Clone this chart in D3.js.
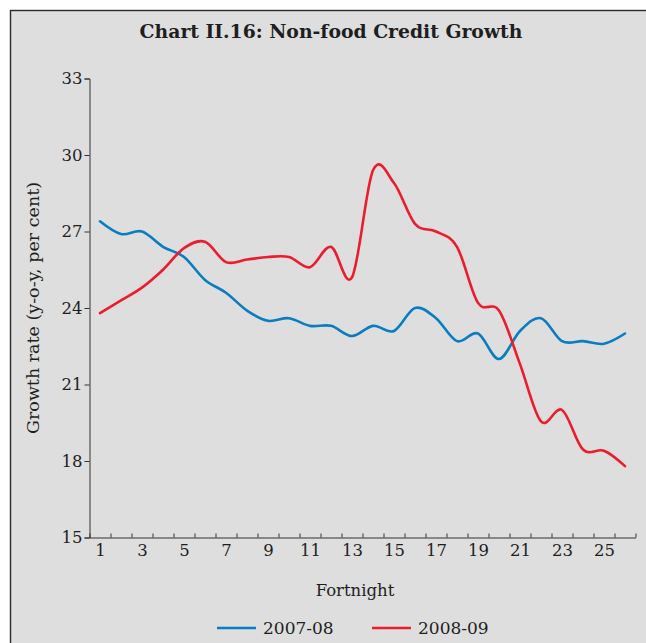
<!DOCTYPE html>
<html>
<head>
<meta charset="utf-8">
<script src="https://cdn.jsdelivr.net/npm/d3@7"></script>
<style>
  html, body { margin: 0; padding: 0; background: #ffffff; }
  svg { display: block; }
  text { font-family: "DejaVu Serif", "Liberation Serif", serif; fill: #1e1e1e; }
</style>
</head>
<body>
<svg id="chart" width="646" height="643"></svg>
<script>
// Fortnights of the financial year
const fortnights = [1, 2, 3, 4, 5, 6, 7, 8, 9, 10, 11, 12, 13, 14, 15, 16, 17, 18, 19, 20, 21, 22, 23, 24, 25, 26];

// Non-food credit growth, y-o-y per cent
const growth2007 = [27.4, 26.9, 27.0, 26.4, 26.0, 25.1, 24.6, 23.9, 23.5, 23.6, 23.3, 23.3, 22.9,
                    23.3, 23.1, 24.0, 23.6, 22.7, 23.0, 22.0, 23.1, 23.6, 22.7, 22.7, 22.6, 23.0];
const growth2008 = [23.8, 24.3, 24.8, 25.5, 26.35, 26.6, 25.8, 25.9, 26.0, 26.0, 25.6, 26.4, 25.2,
                    29.4, 28.9, 27.3, 27.0, 26.4, 24.2, 23.9, 21.8, 19.55, 20.0, 18.45, 18.4, 17.8];

const seriesNames = ["2007-08", "2008-09"];
const seriesColors = ["#0a7dc2", "#ec1c2e"];

const yTicks = [15, 18, 21, 24, 27, 30, 33];
const xTickLabels = [1, 3, 5, 7, 9, 11, 13, 15, 17, 19, 21, 23, 25];

const svg = d3.select("#chart");

// Panel background with its frame
svg.append("rect")
  .attr("x", 10.5).attr("y", 10.5)
  .attr("width", 700).attr("height", 700)
  .attr("fill", "#dedede")
  .attr("stroke", "#2a2a2a")
  .attr("stroke-width", 1.4);

const plot = { left: 89.5, right: 635.5, top: 78.5, bottom: 537.5 };

const x = d3.scaleLinear()
  .domain([0.5, fortnights.length + 0.5])
  .range([plot.left, plot.right]);

const y = d3.scaleLinear()
  .domain([15, 33])
  .range([plot.bottom, plot.top]);

// Title
svg.append("text")
  .attr("x", 331).attr("y", 38)
  .attr("text-anchor", "middle")
  .style("font-weight", "bold")
  .style("font-size", "18.8px")
  .text("Chart II.16: Non-food Credit Growth");

// Y axis
const yAxis = svg.append("g")
  .attr("transform", `translate(${plot.left},0)`)
  .call(d3.axisLeft(y).tickValues(yTicks).tickSize(5).tickPadding(2).tickFormat(d3.format("d")));
yAxis.selectAll("text").style("font-size", "16.5px").style("font-family", "DejaVu Serif");

// X axis: labels centred on fortnights
const xAxis = svg.append("g")
  .attr("transform", `translate(0,${plot.bottom})`)
  .call(d3.axisBottom(x).tickValues(xTickLabels).tickSize(0).tickPadding(7).tickFormat(d3.format("d")));
xAxis.selectAll("text").style("font-size", "16.5px").style("font-family", "DejaVu Serif");
xAxis.select(".domain").remove();

// X axis: short inward marks between fortnights
const boundaries = fortnights.map(d => d - 0.5).concat([fortnights.length + 0.5]);
svg.append("g")
  .attr("transform", `translate(0,${plot.bottom})`)
  .call(d3.axisBottom(x).tickValues(boundaries).tickSizeInner(-4).tickSizeOuter(0).tickFormat(""));

svg.selectAll(".domain, .tick line").attr("stroke", "#333333").attr("stroke-width", 1);

// Axis titles
svg.append("text")
  .attr("transform", `translate(39,${(plot.top + plot.bottom) / 2}) rotate(-90)`)
  .attr("text-anchor", "middle")
  .style("font-size", "17.5px")
  .text("Growth rate (y-o-y, per cent)");

svg.append("text")
  .attr("x", 355).attr("y", 596)
  .attr("text-anchor", "middle")
  .style("font-size", "16.5px")
  .text("Fortnight");

// Lines
const line = d3.line()
  .x((d, i) => x(fortnights[i]))
  .y(d => y(d))
  .curve(d3.curveCardinal.tension(0));

[growth2007, growth2008].forEach((values, k) => {
  svg.append("path")
    .datum(values)
    .attr("fill", "none")
    .attr("stroke", seriesColors[k])
    .attr("stroke-width", 2.6)
    .attr("stroke-linejoin", "round")
    .attr("stroke-linecap", "round")
    .attr("d", line);
});

// Legend
const legendX = [217, 372];
seriesNames.forEach((name, k) => {
  const g = svg.append("g").attr("transform", `translate(${legendX[k]},628)`);
  g.append("line")
    .attr("x1", 0).attr("x2", 39)
    .attr("y1", 0).attr("y2", 0)
    .attr("stroke", seriesColors[k])
    .attr("stroke-width", 2.6);
  g.append("text")
    .attr("x", 46).attr("y", 6)
    .style("font-size", "17px")
    .text(name);
});
</script>
</body>
</html>
